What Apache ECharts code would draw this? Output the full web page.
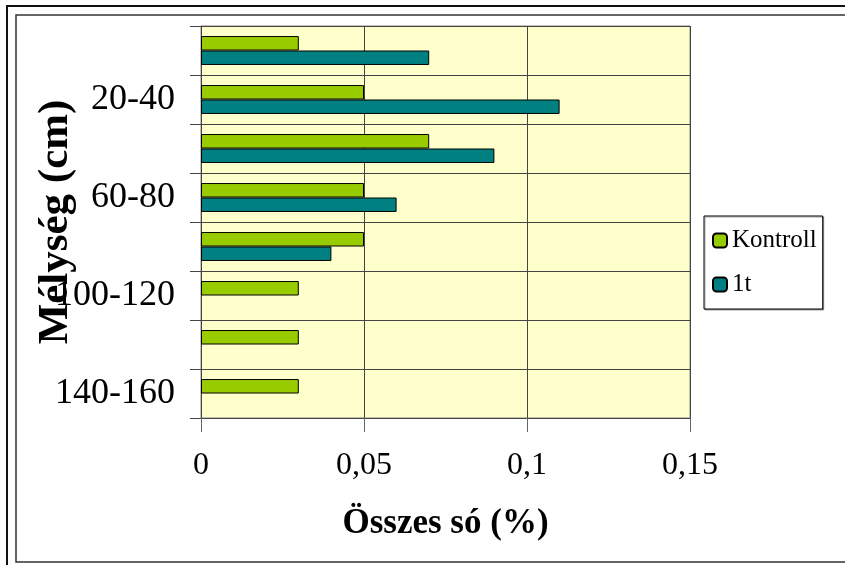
<!DOCTYPE html>
<html>
<head>
<meta charset="utf-8">
<script src="https://cdn.jsdelivr.net/npm/echarts@6/dist/echarts.min.js"></script>
<style>
  html, body { margin: 0; padding: 0; background: #fff; }
  #chart { width: 845px; height: 565px; }
</style>
</head>
<body>
<div id="chart"></div>
<script>
// mélység kategóriák (felülről lefelé)
const depths = ['0-20', '20-40', '40-60', '60-80', '80-100', '100-120', '120-140', '140-160']
const kontroll = [0.03, 0.05, 0.07, 0.05, 0.05, 0.03, 0.03, 0.03]
const egyTonna = [0.07, 0.11, 0.09, 0.06, 0.04, '-', '-', '-']
const xTicks = [0, 0.05, 0.1, 0.15]

const serif = '"Liberation Serif", "Times New Roman", serif'
const lineColor = '#444'

const chart = echarts.init(document.getElementById('chart'))
chart.setOption({
  animation: false,
  backgroundColor: '#fff',
  graphic: [
    {
      type: 'rect',
      shape: { x: 7, y: 6, width: 860, height: 580 },
      style: { fill: 'none', stroke: '#111', lineWidth: 2 },
      silent: true
    },
    {
      type: 'rect',
      shape: { x: 16, y: 15, width: 850, height: 547 },
      style: { fill: 'none', stroke: '#333', lineWidth: 1.5 },
      silent: true
    }
  ],
  grid: {
    left: 201,
    right: 155,
    top: 26,
    bottom: 147,
    outerBoundsMode: 'none',
    show: true,
    backgroundColor: '#FFFFCC',
    borderColor: '#888',
    borderWidth: 1
  },
  legend: {
    orient: 'vertical',
    left: 704,
    top: 216,
    padding: [12, 6, 12, 8],
    itemWidth: 14,
    itemHeight: 14,
    itemGap: 19,
    borderColor: '#000',
    borderWidth: 1,
    backgroundColor: '#fff',
    shadowColor: 'rgba(0,0,0,0.35)',
    shadowOffsetX: 1,
    shadowOffsetY: 1,
    textStyle: { fontFamily: serif, fontSize: 25, color: '#000' },
    data: ['Kontroll', '1t']
  },
  xAxis: {
    type: 'value',
    min: xTicks[0],
    max: xTicks[xTicks.length - 1],
    interval: 0.05,
    name: 'Összes só (%)',
    nameLocation: 'middle',
    nameMoveOverlap: false,
    nameGap: 88,
    nameTextStyle: { fontFamily: serif, fontSize: 35, fontWeight: 'bold', color: '#000' },
    axisLine: { show: true, lineStyle: { color: lineColor } },
    axisTick: { show: true, length: 14, lineStyle: { color: '#666' } },
    axisLabel: {
      margin: 32,
      fontFamily: serif,
      fontSize: 32,
      color: '#000',
      formatter: v => String(+v.toFixed(2)).replace('.', ',')
    },
    splitLine: { show: true, lineStyle: { color: lineColor } }
  },
  yAxis: {
    type: 'category',
    inverse: true,
    data: depths,
    name: 'Mélység (cm)',
    nameLocation: 'middle',
    nameMoveOverlap: false,
    nameRotate: 90,
    nameGap: 124,
    nameTextStyle: { fontFamily: serif, fontSize: 43, fontWeight: 'bold', color: '#000' },
    axisLine: { show: true, lineStyle: { color: lineColor } },
    axisTick: { show: true, length: 11, lineStyle: { color: lineColor } },
    axisLabel: {
      interval: 0,
      margin: 26,
      fontFamily: serif,
      fontSize: 36,
      color: '#000',
      formatter: (v, i) => (i % 2 ? v : '')
    },
    splitLine: { show: true, lineStyle: { color: lineColor } }
  },
  series: [
    {
      name: 'Kontroll',
      type: 'bar',
      barGap: '0%',
      barCategoryGap: '41%',
      itemStyle: { color: '#99CC00', borderColor: '#000', borderWidth: 1 },
      data: kontroll
    },
    {
      name: '1t',
      type: 'bar',
      barGap: '0%',
      barCategoryGap: '41%',
      itemStyle: { color: '#008080', borderColor: '#000', borderWidth: 1 },
      data: egyTonna
    }
  ]
})
</script>
</body>
</html>
